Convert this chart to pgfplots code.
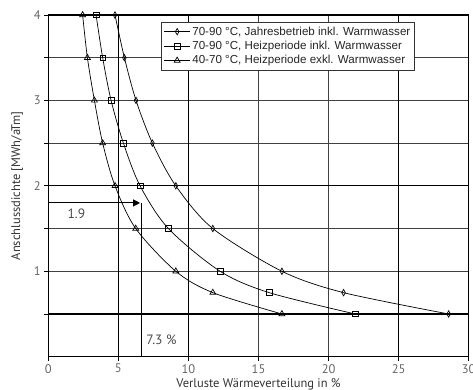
\documentclass[border=0pt]{standalone}
\usepackage{pgfplots}
\pgfplotsset{compat=1.18}
\usepackage{fontspec}
\setmainfont{PT Sans}
\newfontfamily\legfont{Liberation Sans}
\usetikzlibrary{arrows.meta}
\begin{document}
\begin{tikzpicture}
\begin{axis}[
  scale only axis, width=420.4pt, height=341.7pt,
  xmin=0, xmax=30, ymin=0, ymax=4,
  xtick={0,5,10,15,20,25,30},
  ytick={1,2,3,4},
  minor ytick={0.5,1.5,2.5,3.5},
  /pgf/number format/assume math mode=true,
  tick label style={font=\fontsize{12.5}{14}\selectfont, text=black!60},
  label style={font=\fontsize{12.5}{14}\selectfont, text=black!80},
  xlabel={Verluste Wärmeverteilung in \%},
  ylabel={Anschlussdichte [MWh/aTm]},
  xlabel style={yshift=6pt},
  ylabel style={yshift=-4pt},
  tick pos=left, tick align=outside,
  major tick length=4pt, minor tick length=4pt,
  every tick/.style={black, line width=0.9pt},
  every minor tick/.style={black, line width=0.9pt},
  grid=both,
  major grid style={black!75, line width=0.9pt},
  minor grid style={black!75, line width=0.9pt},
  axis line style={black, line width=1pt},
  extra x ticks={5,10,25},
  extra x tick labels={},
  extra x tick style={grid=major, major grid style={black, line width=1.3pt}, major tick length=0pt},
  extra y ticks={0.5,2,4},
  extra y tick labels={},
  extra y tick style={grid=major, major grid style={black, line width=1.3pt}},
  legend style={at={(axis cs:8.05,3.92)}, anchor=north west, draw=black!80, line width=0.8pt,
    fill=white, font=\legfont\fontsize{11.6}{13}\selectfont, text=black!85,
    row sep=0.5pt, inner sep=2.5pt},
  legend cell align=left,
  legend image code/.code={%
    \draw[#1, mark repeat=2, mark phase=2] plot coordinates {(0cm,0cm) (0.45cm,0cm) (0.9cm,0cm)};},
]
\addplot[smooth, black, line width=0.7pt, mark=diamond, mark size=3.2pt, mark options={xscale=0.75, fill=white, solid, line width=0.7pt}] coordinates {
 (4.76,4) (5.43,3.5) (6.26,3) (7.43,2.5) (9.1,2) (11.74,1.5) (16.67,1) (21.07,0.75) (28.57,0.5)};
\addlegendentry{70-90 °C, Jahresbetrieb inkl. Warmwasser}
\addplot[smooth, black, line width=0.7pt, mark=square, mark size=2.8pt, mark options={fill=white, solid, line width=0.7pt}] coordinates {
 (3.41,4) (3.88,3.5) (4.48,3) (5.36,2.5) (6.55,2) (8.57,1.5) (12.26,1) (15.76,0.75) (21.9,0.5)};
\addlegendentry{70-90 °C, Heizperiode inkl. Warmwasser}
\addplot[smooth, black, line width=0.7pt, mark=triangle, mark size=3.4pt, mark options={fill=white, solid, line width=0.7pt}] coordinates {
 (2.45,4) (2.79,3.5) (3.29,3) (3.88,2.5) (4.76,2) (6.24,1.5) (9.1,1) (11.74,0.75) (16.67,0.5)};
\addlegendentry{40-70 °C, Heizperiode exkl. Warmwasser}
\draw[black, line width=1.1pt, -{Triangle[length=7pt,width=7pt]}] (axis cs:0,1.8) -- (axis cs:6.55,1.8);
\draw[black, line width=1.3pt] (axis cs:6.67,1.8) -- (axis cs:6.67,-0.04);
\node[font=\fontsize{13.5}{15}\selectfont, text=black!70] at (axis cs:2.0,1.67) {1.9};
\node[font=\fontsize{13.5}{15}\selectfont, text=black!70, anchor=west] at (axis cs:6.75,0.2) {7.3 \%};
\end{axis}
\pgfresetboundingbox
\path[use as bounding box] (-48.3pt,-33.3pt) rectangle (424.7pt,356.7pt);
\end{tikzpicture}
\end{document}
